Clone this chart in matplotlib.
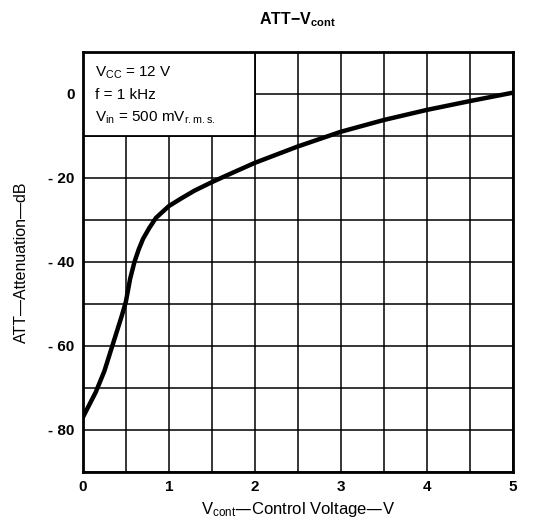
""" ATT - Vcont : atténuation en fonction de la tension de contrôle """
import matplotlib
import matplotlib.pyplot as plt
from matplotlib.patches import Rectangle

matplotlib.use("Agg")

plt.rcParams["font.family"] = ["Liberation Sans", "DejaVu Sans"]
plt.rcParams["mathtext.default"] = "regular"

# Valeurs (V, dB)
V_CONT = [0, 0.15, 0.25, 0.35, 0.45, 0.5, 0.55, 0.6, 0.65, 0.7, 0.77, 0.85, 1.0, 1.15, 1.3, 1.5, 1.65, 2.0,
          2.5, 3.0, 3.5, 4.0, 4.5, 5.0]
ATT = [-77, -71, -66, -59.5, -53, -49.5, -44, -40, -37, -34.5, -32, -29.5, -26.7, -24.8, -23, -21, -19.6, -16.4,
       -12.5, -9.0, -6.2, -3.8, -1.7, 0.3]

X_TICKS = [0, 1, 2, 3, 4, 5]
Y_TICKS = [-80, -60, -40, -20, 0]
Y_LABELS = ["- 80", "- 60", "- 40", "- 20", "0"]
CONDITIONS = ["V$_{CC}$ = 12 V", "f = 1 kHz", "V$_{in}$ = 500 mV$_{r.m.s.}$"]

fig = plt.figure(figsize=(5.38, 5.25), dpi=100)
ax = fig.add_axes([0.154, 0.101, 0.799, 0.8])

ax.set_xlim(0, 5)
ax.set_ylim(-90, 10)
ax.set_xticks(X_TICKS)
ax.set_xticks([x + 0.5 for x in X_TICKS[:-1]], minor=True)
ax.set_yticks(Y_TICKS, Y_LABELS)
ax.set_yticks([-90, -70, -50, -30, -10, 10], minor=True)
ax.tick_params(which="both", length=0, labelsize=11, pad=6)
for lbl in ax.get_xticklabels() + ax.get_yticklabels():
	lbl.set_fontweight("bold")
ax.grid(which="both", color="black", linewidth=1.1, zorder=1)
for s in ax.spines.values():
	s.set_linewidth(2)

# Encadré des conditions (masque la grille)
ax.add_patch(Rectangle((0, -10), 2, 20, facecolor="white", edgecolor="black", linewidth=1.3, zorder=2))
for i, txt in enumerate(CONDITIONS):
	ax.text(0.14, 5.0 - i * 5.3, txt, fontsize=11, va="center", ha="left", zorder=3)

ax.plot(V_CONT, ATT, color="black", linewidth=3.2, solid_capstyle="round", solid_joinstyle="round", zorder=4)

ax.set_title("ATT$-$V$_{cont}$", fontsize=11.5, fontweight="bold", pad=20)
ax.set_xlabel("V$_{cont}$—Control Voltage—V", fontsize=12, labelpad=4)
ax.set_ylabel("ATT—Attenuation—dB", fontsize=11.5, labelpad=14)

fig.savefig("out.png", dpi=100)
plt.close(fig)
